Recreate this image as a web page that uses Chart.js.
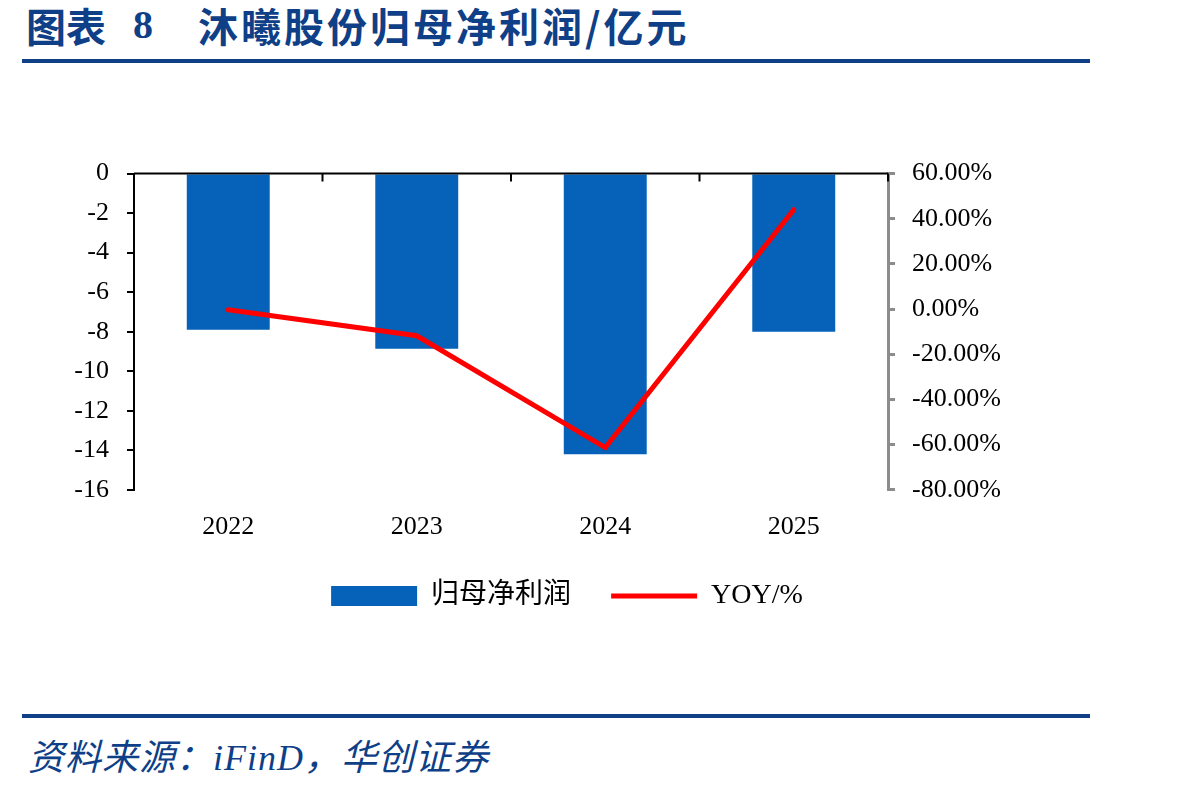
<!DOCTYPE html>
<html lang="zh-CN">
<head>
  <meta charset="UTF-8">
  <title>沐曦股份归母净利润</title>
  <script src="https://cdn.jsdelivr.net/npm/chart.js"></script>
  <style>
    body {
      margin: 0;
      width: 1198px;
      height: 791px;
      background: #fff;
      position: relative;
      overflow: hidden;
    }
    .title {
      position: absolute;
      top: 5px;
      font-family: "Noto Sans CJK SC", sans-serif;
      font-weight: bold;
      font-size: 40px;
      line-height: 1;
      color: #0f3f87;
      white-space: nowrap;
    }
    .rule {
      position: absolute;
      left: 22px;
      width: 1068px;
      height: 4px;
      background: #0e3f87;
    }
    .source {
      position: absolute;
      left: 28px;
      top: 736px;
      font-family: "Noto Sans CJK SC", sans-serif;
      font-style: italic;
      font-size: 36px;
      line-height: 1;
      letter-spacing: 1px;
      color: #0e3f87;
      white-space: nowrap;
    }
    .source .latin {
      font-family: "Liberation Serif", serif;
    }
    .chart-box {
      position: absolute;
      left: 0;
      top: 140px;
      width: 1198px;
      height: 502px;
    }
  </style>
</head>
<body>
  <div class="title" style="left: 26px;">图表</div>
  <div class="title" style="left: 133px; font-family: 'Liberation Serif', serif;">8</div>
  <div class="title" style="left: 198px; letter-spacing: 3px;">沐曦股份归母净利润/亿元</div>
  <div class="rule" style="top: 59px;"></div>

  <div class="chart-box">
    <canvas id="profitChart"></canvas>
  </div>

  <div class="rule" style="top: 714px;"></div>
  <div class="source">资料来源：<span class="latin">iFinD</span>，华创证券</div>

  <script>
    // data
    const years = ['2022', '2023', '2024', '2025'];
    const netProfit = [-7.9, -8.86, -14.2, -8.0];   // 亿元
    const yoy = [-0.3, -11.8, -61.3, 44.0];          // %

    const axisFont = { family: '"Liberation Serif", "Times New Roman", serif', size: 26 };

    // horizontal axis line at 0 with small ticks at category boundaries
    const zeroLine = {
      id: 'zeroLine',
      afterDatasetsDraw(chart) {
        const { ctx, chartArea, scales } = chart;
        const y0 = scales.y.getPixelForValue(0);
        ctx.save();
        ctx.strokeStyle = '#000';
        ctx.lineWidth = 2;
        ctx.beginPath();
        ctx.moveTo(chartArea.left, y0);
        ctx.lineTo(chartArea.right, y0);
        for (let i = 0; i <= years.length; i++) {
          const px = scales.x.getPixelForValue(i - 0.5);
          ctx.moveTo(px, y0);
          ctx.lineTo(px, y0 + 8);
        }
        ctx.stroke();
        ctx.restore();
      }
    };

    const ctx = document.getElementById('profitChart').getContext('2d');

    new Chart(ctx, {
      data: {
        labels: years,
        datasets: [
          {
            type: 'bar',
            label: '归母净利润',
            data: netProfit,
            backgroundColor: '#0562b8',
            borderWidth: 0,
            yAxisID: 'y',
            categoryPercentage: 1,
            barPercentage: 0.44,
            pointStyle: 'rect',
            order: 1
          },
          {
            type: 'line',
            label: 'YOY/%',
            data: yoy,
            borderColor: '#ff0000',
            backgroundColor: '#ff0000',
            borderWidth: 5,
            borderCapStyle: 'round',
            pointRadius: 0,
            tension: 0,
            yAxisID: 'y2',
            pointStyle: 'line',
            order: 0
          }
        ]
      },
      options: {
        responsive: true,
        maintainAspectRatio: false,
        animation: false,
        layout: { padding: { top: 31, bottom: 22, left: 0, right: 64 } },
        plugins: {
          tooltip: { enabled: false },
          legend: {
            position: 'bottom',
            labels: {
              usePointStyle: true,
              pointStyleWidth: 86,
              boxHeight: 20,
              padding: 40,
              color: '#000',
              font: { family: '"Liberation Serif", "Noto Sans CJK SC", serif', size: 28 },
              sort: (a, b) => a.datasetIndex - b.datasetIndex
            }
          }
        },
        scales: {
          x: {
            type: 'category',
            position: 'bottom',
            offset: true,
            grid: { display: false },
            border: { display: false },
            ticks: { color: '#000', font: axisFont, padding: 14 },
            afterFit: (scale) => { scale.height -= 15; }
          },
          y: {
            position: 'left',
            min: -16,
            max: 0,
            ticks: { stepSize: 2, color: '#000', font: axisFont, padding: 18 },
            border: { display: true, color: '#000', width: 2 },
            grid: { drawOnChartArea: false, tickLength: 7, color: '#000', lineWidth: 2 },
            afterFit: (scale) => { scale.width = 134; }
          },
          y2: {
            position: 'right',
            min: -80,
            max: 60,
            ticks: {
              stepSize: 20,
              color: '#000',
              font: axisFont,
              padding: 17,
              callback: (v) => v.toFixed(2) + '%'
            },
            border: { display: true, color: '#8c8c8c', width: 3 },
            grid: { drawOnChartArea: false, tickLength: 7, color: '#8c8c8c', lineWidth: 3 },
            afterFit: (scale) => { scale.width = 246; }
          }
        }
      },
      plugins: [zeroLine]
    });
  </script>
</body>
</html>
